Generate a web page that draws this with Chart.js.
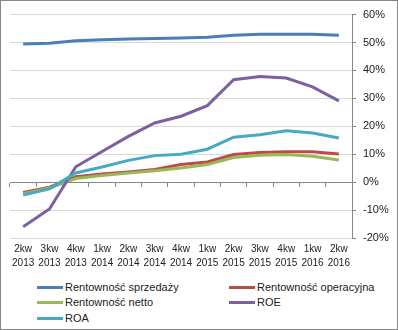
<!DOCTYPE html>
<html>
<head>
<meta charset="utf-8">
<script src="https://cdn.jsdelivr.net/npm/chart.js@4"></script>
<style>
  body { margin: 0; background: #fff; font-family: "Liberation Sans", Arial, sans-serif; }
  #frame { position: relative; width: 398px; height: 330px; border: 1px solid #868686; box-sizing: border-box; background: #fff; }
  #plot { position: absolute; left: 0; top: 0; width: 396px; height: 278px; }
  .leg { position: absolute; font-size: 11px; color: #222; line-height: 13px; white-space: nowrap; }
  .leg span.sw { position: absolute; left: 0; top: 5px; width: 26px; height: 3px; }
  .leg span.tx { position: absolute; left: 28px; top: 0; }
</style>
</head>
<body>
<div id="frame">
  <div id="plot"><canvas id="chart"></canvas></div>
  <div id="legend"></div>
</div>
<script>
// categories (quarters) and series values in %
const quarters = [
  ['2kw', '2013'], ['3kw', '2013'], ['4kw', '2013'], ['1kw', '2014'], ['2kw', '2014'],
  ['3kw', '2014'], ['4kw', '2014'], ['1kw', '2015'], ['2kw', '2015'], ['3kw', '2015'],
  ['4kw', '2015'], ['1kw', '2016'], ['2kw', '2016']
];
const seriesNames = ['Rentowność sprzedaży', 'Rentowność operacyjna', 'Rentowność netto', 'ROE', 'ROA'];
const seriesColors = ['#4A7EBB', '#BE4B48', '#98B954', '#7D60A0', '#46AAC5'];

const rentSprzedazy = [49.5, 49.7, 50.6, 51.0, 51.3, 51.4, 51.6, 51.9, 52.6, 53.0, 53.0, 53.0, 52.6];
const rentOperacyjna = [-3.7, -1.8, 1.9, 2.9, 3.6, 4.5, 6.3, 7.2, 9.9, 10.6, 10.9, 10.9, 10.1];
const rentNetto = [-4.1, -2.1, 1.3, 2.4, 3.3, 4.1, 5.1, 6.3, 8.8, 9.6, 9.9, 9.3, 7.9];
const roe = [-16.0, -9.6, 5.5, 11.0, 16.4, 21.2, 23.6, 27.4, 36.7, 37.8, 37.3, 34.1, 29.1];
const roa = [-4.6, -2.4, 3.3, 5.4, 7.8, 9.5, 10.0, 11.8, 16.1, 17.0, 18.4, 17.6, 15.8];

const yTicks = [-20, -10, 0, 10, 20, 30, 40, 50, 60];

const allSeries = [rentSprzedazy, rentOperacyjna, rentNetto, roe, roa];

const datasets = allSeries.map((vals, i) => ({
  label: seriesNames[i],
  data: vals,
  borderColor: seriesColors[i],
  backgroundColor: seriesColors[i],
  borderWidth: 3,
  pointRadius: 0,
  tension: 0,
  xAxisID: 'x',
  order: allSeries.length - i
}));

const labelFont = { family: '"Liberation Sans", Arial, sans-serif', size: 10, lineHeight: 1.4 };

new Chart(document.getElementById('chart'), {
  type: 'line',
  data: { labels: quarters.map(q => q.join(' ')), datasets: datasets },
  options: {
    responsive: true,
    maintainAspectRatio: false,
    animation: false,
    layout: { padding: { left: 9, top: 13, right: 0, bottom: 10 } },
    plugins: { legend: { display: false }, tooltip: { enabled: false } },
    scales: {
      x: {
        type: 'category',
        position: { y: 0 },
        offset: true,
        ticks: { display: false },
        grid: { offset: true, drawOnChartArea: false, drawTicks: true, tickLength: 4, tickColor: '#868686' },
        border: { color: '#868686', width: 1 }
      },
      x2: {
        type: 'category',
        position: 'bottom',
        labels: quarters,
        offset: true,
        grid: { display: false, drawTicks: false },
        border: { display: false },
        ticks: { autoSkip: false, maxRotation: 0, minRotation: 0, padding: 4, color: '#222', font: labelFont },
        afterFit: axis => { axis.height = 31; }
      },
      y: {
        position: 'right',
        min: yTicks[0],
        max: yTicks[yTicks.length - 1],
        afterBuildTicks: axis => { axis.ticks = yTicks.map(v => ({ value: v })); },
        afterFit: axis => { axis.width = 45; },
        ticks: { callback: v => v + '%', padding: 7, color: '#222', font: { family: '"Liberation Sans", Arial, sans-serif', size: 11 } },
        grid: { color: '#D9D9D9', tickColor: '#868686', tickLength: 4 },
        border: { color: '#868686', width: 1 }
      }
    }
  }
});

// legend in two columns like the original
const legendPos = [
  { left: 36, top: 280 }, { left: 228, top: 280 },
  { left: 36, top: 295 }, { left: 228, top: 295 },
  { left: 36, top: 311 }
];
const legend = document.getElementById('legend');
seriesNames.forEach((name, i) => {
  const item = document.createElement('div');
  item.className = 'leg';
  item.style.left = legendPos[i].left + 'px';
  item.style.top = legendPos[i].top + 'px';
  item.innerHTML = `<span class="sw" style="background:${seriesColors[i]}"></span><span class="tx">${name}</span>`;
  legend.appendChild(item);
});
</script>
</body>
</html>
